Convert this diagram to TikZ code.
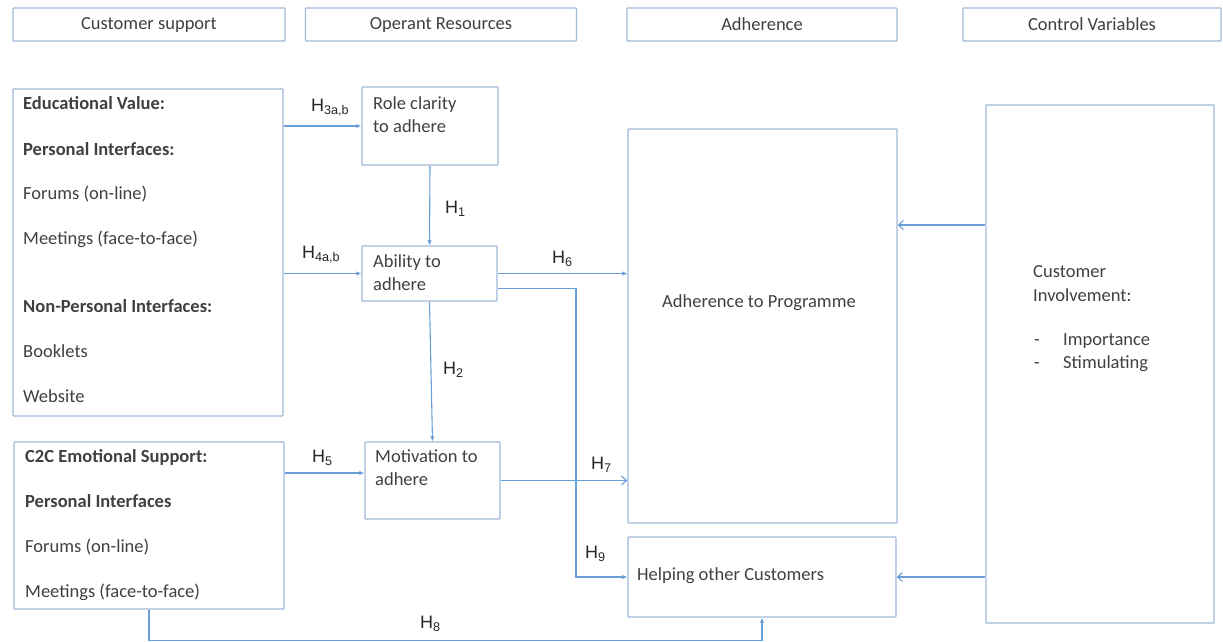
\documentclass[tikz,border=0pt]{standalone}
\usepackage{fontspec}
\setmainfont{Carlito}
\newfontfamily\hypfont{Liberation Sans}
\usetikzlibrary{arrows.meta}
\definecolor{boxblue}{RGB}{160,186,218}
\definecolor{lineblue}{RGB}{105,158,214}
\definecolor{textgray}{RGB}{64,64,64}

\begin{document}
\begin{tikzpicture}[x=1pt, y=-1pt,
		box_style/.style={rectangle, draw=boxblue, line width=1.3pt, inner sep=0pt, rounded corners=0.8pt, font=\fontsize{18.5}{22}\selectfont, text=textgray},
		text_style/.style={anchor=base west, inner sep=0pt, font=\fontsize{18.5}{22}\selectfont, text=textgray},
		hyp_style/.style={anchor=base west, inner sep=0pt, font=\hypfont\fontsize{18}{20}\selectfont, text=black!85},
		edge_style/.style={draw=lineblue, line width=1.1pt, -{Latex[length=5pt,width=4.5pt]}},
		open_edge/.style={draw=lineblue, line width=1.1pt, -{Straight Barb[length=5pt,width=9pt]}}]
		
		\useasboundingbox (0,0) rectangle (1223,641);
		
		% headers
		\node[box_style, minimum width=272pt, minimum height=33pt] (hdr1) at (149,24.5) {Customer support};
		\node[box_style, minimum width=271pt, minimum height=33pt] (hdr2) at (441,24.5) {Operant Resources};
		\node[box_style, minimum width=270pt, minimum height=33pt] (hdr3) at (762,24.5) {Adherence};
		\node[box_style, minimum width=258pt, minimum height=33pt] (hdr4) at (1092,24.5) {Control Variables};
		
		% boxes
		\node[box_style, minimum width=270pt, minimum height=327pt] (edu) at (148,252.5) {};
		\node[box_style, minimum width=136pt, minimum height=78pt] (role) at (430,126) {};
		\node[box_style, minimum width=135pt, minimum height=55pt] (ability) at (429.5,273.5) {};
		\node[box_style, minimum width=135pt, minimum height=77pt] (motiv) at (432.5,480.5) {};
		\node[box_style, minimum width=270pt, minimum height=167pt] (c2c) at (149,525.5) {};
		\node[box_style, minimum width=269pt, minimum height=394pt] (adh) at (762.5,326) {};
		\node[box_style, minimum width=268pt, minimum height=80pt] (help) at (762,577) {};
		\node[box_style, minimum width=228pt, minimum height=518pt] (ctrl) at (1100,364) {};
		
		% texts
		\node[text_style] (edu1) at (23,109) {\textbf{Educational Value:}};
		\node[text_style] (edu2) at (23,155) {\textbf{Personal Interfaces:}};
		\node[text_style] (edu3) at (23,199) {Forums (on-line)};
		\node[text_style] (edu4) at (23,244) {Meetings (face-to-face)};
		\node[text_style] (edu5) at (23,312) {\textbf{Non-Personal Interfaces:}};
		\node[text_style] (edu6) at (23,357) {Booklets};
		\node[text_style] (edu7) at (23,402) {Website};
		\node[text_style] (c2c1) at (25,462) {\textbf{C2C Emotional Support:}};
		\node[text_style] (c2c2) at (25,507) {\textbf{Personal Interfaces}};
		\node[text_style] (c2c3) at (25,552) {Forums (on-line)};
		\node[text_style] (c2c4) at (25,597) {Meetings (face-to-face)};
		\node[text_style] (role1) at (373,109) {Role clarity};
		\node[text_style] (role2) at (373,132) {to adhere};
		\node[text_style] (abil1) at (373,267) {Ability to};
		\node[text_style] (abil2) at (373,290) {adhere};
		\node[text_style] (moti1) at (375,462) {Motivation to};
		\node[text_style] (moti2) at (375,485) {adhere};
		\node[text_style] (adh1) at (662,307) {Adherence to Programme};
		\node[text_style] (help1) at (637,580) {Helping other Customers};
		\node[text_style] (ctrl1) at (1033,277) {Customer};
		\node[text_style] (ctrl2) at (1033,301) {Involvement:};
		\node[text_style] (ctrl3) at (1034,345) {-};
		\node[text_style] (ctrl4) at (1063,345) {Importance};
		\node[text_style] (ctrl5) at (1034,368) {-};
		\node[text_style] (ctrl6) at (1063,368) {Stimulating};
		
		% hypotheses
		\node[hyp_style] (h3) at (311,111.5) {H\textsubscript{3a,b}};
		\node[hyp_style] (h4) at (302,258.5) {H\textsubscript{4a,b}};
		\node[hyp_style] (h1) at (445,213.5) {H\textsubscript{1}};
		\node[hyp_style] (h2) at (443,374.5) {H\textsubscript{2}};
		\node[hyp_style] (h5) at (312,462.5) {H\textsubscript{5}};
		\node[hyp_style] (h6) at (552,263.5) {H\textsubscript{6}};
		\node[hyp_style] (h7) at (591,469.5) {H\textsubscript{7}};
		\node[hyp_style] (h9) at (585,558.5) {H\textsubscript{9}};
		\node[hyp_style] (h8) at (420,628.5) {H\textsubscript{8}};
		
		\coordinate (m5) at ([yshift=7.5pt]motiv.west);
		\coordinate (k9) at (576,288.5);
		\coordinate (cv) at (0,225);
		
		\draw[edge_style]  (edu.east |- role.west) -- (role.west);
		\draw[edge_style]  (edu.east |- ability.west) -- (ability.west);
		\draw[edge_style]  (role.south) -- (ability.north);
		\draw[edge_style]  (ability.south) -- (motiv.north);
		\draw[edge_style]  (c2c.east |- m5) -- (m5);
		\draw[edge_style]  (ability.east) -- (ability.east -| adh.west);
		\draw[open_edge]   (motiv.east) -- (motiv.east -| adh.west);
		\draw[edge_style]  ([yshift=-15pt]ability.east) -- (k9) -- (k9 |- help.west) -- (help.west);
		\draw[edge_style]  (c2c.south) -- ++(0,31) -| (help.south);
		\draw[open_edge]   (ctrl.west |- cv) -- (adh.east |- cv);
		\draw[open_edge]   (ctrl.west |- help.east) -- (help.east);
		
\end{tikzpicture}
\end{document}
